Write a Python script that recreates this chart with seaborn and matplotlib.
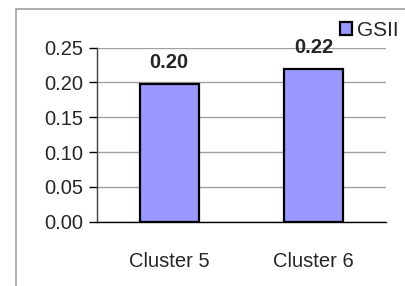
import pandas as pd
import matplotlib
matplotlib.use("Agg")
import matplotlib.pyplot as plt
import seaborn as sns
from matplotlib.patches import Rectangle

# Data
clusters = ["Cluster 5", "Cluster 6"]
gsii = [0.198, 0.219]
series_name = "GSII"

df = pd.DataFrame({"cluster": clusters, "value": gsii, "series": series_name})

sns.set_style("white")
plt.rcParams["font.family"] = ["Liberation Sans", "DejaVu Sans"]
FS = 14.5

fig = plt.figure(figsize=(4.06, 2.86), dpi=100)
ax = fig.add_axes([97 / 406, 1 - 221.7 / 286, (386 - 97) / 406, (221.7 - 47.7) / 286])

# gray frame around the chart area (right/bottom edges fall off the image)
fig.patches.append(Rectangle((16 / 406, -0.1), 1.2, 1 - 9.3 / 286 + 0.1,
                             transform=fig.transFigure, fill=False,
                             edgecolor="#a0a0a0", linewidth=1.2, zorder=0))

sns.barplot(data=df, x="cluster", y="value", hue="series", palette=["#9999FF"],
            saturation=1, edgecolor="black", linewidth=1.6, width=0.41, ax=ax,
            legend=False, zorder=3)

ax.set_xlim(-0.5, 1.5)
ax.set_ylim(0, 0.25)
ax.set_yticks([0, 0.05, 0.10, 0.15, 0.20, 0.25])
ax.set_yticklabels([f"{v:.2f}" for v in ax.get_yticks()], fontsize=FS)
ax.set_xticks([0, 1])
ax.set_xticklabels(clusters, fontsize=FS)
ax.set_xticks([-0.5, 0.5, 1.5], minor=True)
ax.tick_params(axis="x", which="major", length=0, pad=22)
ax.tick_params(axis="x", which="minor", length=6, width=1, color="black", direction="out")
ax.tick_params(axis="y", length=6, width=1, color="black", direction="out", left=True, pad=4)
ax.set_xlabel("")
ax.set_ylabel("")

ax.yaxis.grid(True, color="#a0a0a0", linewidth=1)
ax.set_axisbelow(True)
for side in ["top", "right"]:
    ax.spines[side].set_visible(False)
ax.spines["left"].set_color("#404040")
ax.spines["bottom"].set_color("black")
ax.spines["left"].set_linewidth(1)
ax.spines["bottom"].set_linewidth(1)

# value labels above bars
for i, v in enumerate(gsii):
    ax.text(i, v + 0.017, f"{v:.2f}", ha="center", va="bottom",
            fontsize=FS, fontweight="bold")

# legend
handles = [Rectangle((0, 0), 1, 1, facecolor="#9999FF", edgecolor="black", linewidth=1.6)]
fig.legend(handles, [series_name], loc="upper left", bbox_to_anchor=(340 / 406, 1 - 21 / 286),
           frameon=False, fontsize=FS + 0.5, handlelength=0.6, handleheight=0.6,
           handletextpad=0.2, borderpad=0, borderaxespad=0)

fig.savefig("out.png", dpi=100)
